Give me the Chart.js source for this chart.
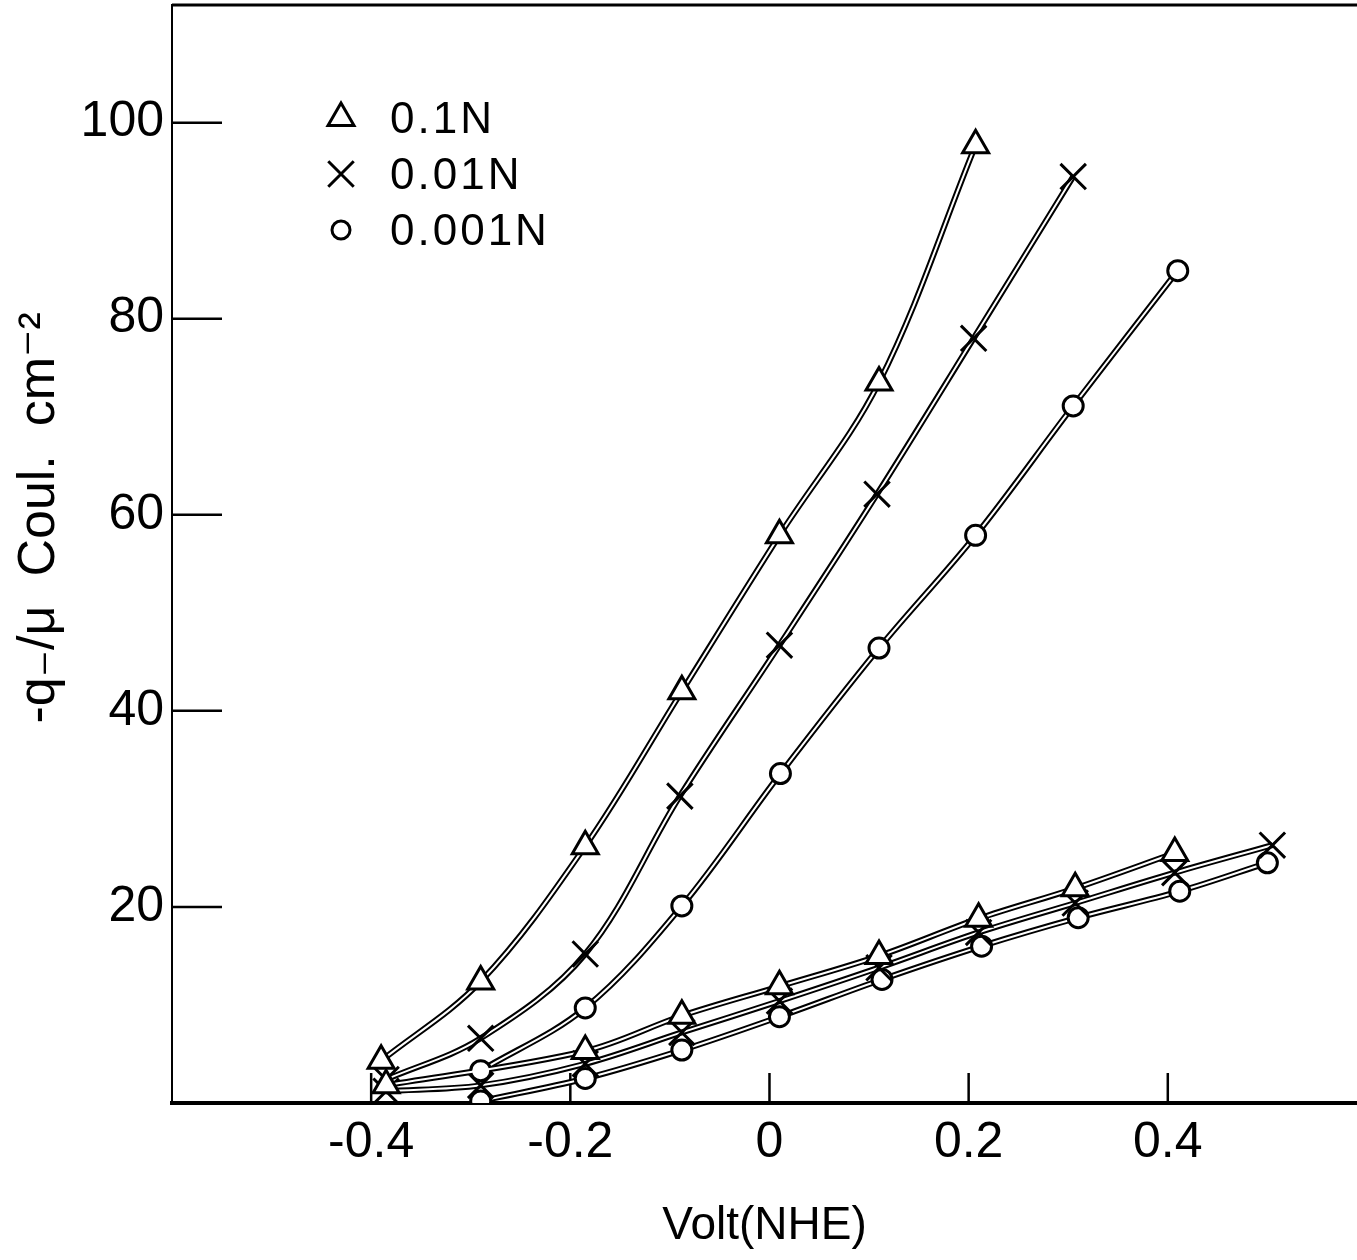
<!DOCTYPE html>
<html>
<head>
<meta charset="utf-8">
<title>Charge vs potential</title>
<script src="https://cdn.jsdelivr.net/npm/chart.js@4.4.1/dist/chart.umd.min.js"></script>
<style>
    html, body { margin: 0; padding: 0; background: #fff; }
    #wrap { width: 1357px; height: 1260px; }
</style>
</head>
<body>
<div id="wrap"><canvas id="chart" width="1357" height="1260"></canvas></div>
<script>
// values
const xTickValues = [-0.4, -0.2, 0, 0.2, 0.4];
const yTickValues = [20, 40, 60, 80, 100];
const legendLabels = ['0.1N', '0.01N', '0.001N'];

// upper curves
const triUpperX = [-0.39, -0.29, -0.185, -0.088, 0.01, 0.11, 0.207];
const triUpperY = [4.3, 12.4, 26.2, 42.0, 57.9, 73.5, 97.7];
const crossUpperX = [-0.385, -0.29, -0.185, -0.09, 0.01, 0.108, 0.205, 0.305];
const crossUpperY = [2.4, 6.6, 15.2, 31.3, 46.7, 62.1, 78.0, 94.5];
const circUpperX = [-0.29, -0.185, -0.088, 0.011, 0.11, 0.207, 0.305, 0.41];
const circUpperY = [3.3, 9.7, 20.1, 33.6, 46.4, 57.9, 71.1, 84.9];

// lower curves
const triLowerX = [-0.385, -0.185, -0.088, 0.01, 0.11, 0.21, 0.307, 0.407];
const triLowerY = [1.8, 5.3, 8.9, 11.9, 15.0, 18.8, 21.9, 25.5];
const crossLowerX = [-0.385, -0.29, -0.185, -0.088, 0.01, 0.11, 0.21, 0.307, 0.407, 0.505];
const crossLowerY = [1.2, 1.8, 4.0, 7.2, 10.4, 13.8, 17.4, 20.4, 23.5, 26.3];
const circLowerX = [-0.29, -0.185, -0.088, 0.01, 0.113, 0.213, 0.31, 0.412, 0.5];
const circLowerY = [0.2, 2.5, 5.4, 8.8, 12.6, 16.0, 18.9, 21.6, 24.5];

const FONT = '"Liberation Sans", "DejaVu Sans", sans-serif';

function pts(xs, ys) {
    return xs.map((x, i) => ({ x: x, y: ys[i] }));
}

const markers = {
    triangle: { pointStyle: 'triangle', radius: 15 },
    cross: { pointStyle: 'crossRot', radius: 18 },
    circle: { pointStyle: 'circle', radius: 10 }
};

// each curve is drawn twice: a wide black stroke, then a thin white one on top (hollow line look)
function curve(xs, ys, marker, label) {
    const data = pts(xs, ys);
    const m = markers[marker];
    return [
        {
            data: data,
            borderColor: '#000',
            borderWidth: 6,
            pointRadius: 0,
            tension: 0.35,
            order: 2
        },
        {
            label: label,
            inLegend: !!label,
            data: data,
            borderColor: '#fff',
            borderWidth: 2,
            pointStyle: m.pointStyle,
            pointRadius: m.radius,
            pointBorderWidth: 3,
            pointBorderColor: '#000',
            pointBackgroundColor: '#fff',
            tension: 0.35,
            order: 1
        }
    ];
}

const datasets = [].concat(
    curve(triLowerX, triLowerY, 'triangle'),
    curve(crossLowerX, crossLowerY, 'cross'),
    curve(circLowerX, circLowerY, 'circle'),
    curve(triUpperX, triUpperY, 'triangle', legendLabels[0]),
    curve(crossUpperX, crossUpperY, 'cross', legendLabels[1]),
    curve(circUpperX, circUpperY, 'circle', legendLabels[2])
);

// inward tick marks + top frame line
const axisMarks = {
    id: 'axisMarks',
    beforeDatasetsDraw(chart) {
        const { ctx, chartArea, scales } = chart;
        ctx.save();
        ctx.strokeStyle = '#000';
        ctx.lineWidth = 3;
        ctx.beginPath();
        ctx.moveTo(chartArea.left, chartArea.top);
        ctx.lineTo(chartArea.right, chartArea.top);
        ctx.stroke();
        ctx.lineWidth = 2.5;
        scales.y.ticks.forEach(t => {
            const py = scales.y.getPixelForValue(t.value);
            ctx.beginPath();
            ctx.moveTo(chartArea.left, py);
            ctx.lineTo(chartArea.left + 50, py);
            ctx.stroke();
        });
        scales.x.ticks.forEach(t => {
            const px = scales.x.getPixelForValue(t.value);
            ctx.beginPath();
            ctx.moveTo(px, chartArea.bottom);
            ctx.lineTo(px, chartArea.bottom - 30);
            ctx.stroke();
        });
        ctx.restore();
    }
};

// legend in the upper left of the plot
const markerLegend = {
    id: 'markerLegend',
    afterDraw(chart) {
        const ctx = chart.ctx;
        const items = chart.data.datasets.filter(d => d.inLegend);
        ctx.save();
        items.forEach((d, i) => {
            const cy = 118 + i * 56;
            ctx.fillStyle = '#fff';
            ctx.strokeStyle = '#000';
            ctx.lineWidth = 3;
            Chart.helpers.drawPoint(ctx, {
                pointStyle: d.pointStyle,
                radius: d.pointStyle === 'circle' ? 9 : d.pointRadius,
                borderWidth: 3,
                rotation: 0
            }, 341, cy);
            ctx.fillStyle = '#000';
            ctx.font = '44px ' + FONT;
            ctx.letterSpacing = '3px';
            ctx.textBaseline = 'alphabetic';
            ctx.textAlign = 'left';
            ctx.fillText(d.label, 390, cy + 15);
        });
        ctx.restore();
    }
};

new Chart(document.getElementById('chart'), {
    type: 'line',
    data: { datasets: datasets },
    options: {
        responsive: false,
        animation: false,
        layout: { autoPadding: false, padding: { top: 5, right: 0, left: 0, bottom: 0 } },
        plugins: {
            legend: { display: false },
            tooltip: { enabled: false }
        },
        scales: {
            x: {
                type: 'linear',
                min: -0.6,
                max: 0.59,
                afterBuildTicks: s => { s.ticks = xTickValues.map(v => ({ value: v })); },
                afterFit: s => {
                    s.height = 157;
                    s.paddingLeft = 0;
                    s.paddingRight = 0;
                },
                grid: { display: false, drawTicks: false },
                border: { display: true, color: '#000', width: 4 },
                ticks: {
                    color: '#000',
                    padding: 10,
                    maxRotation: 0,
                    font: { family: FONT, size: 50 },
                    callback: v => String(v)
                },
                title: {
                    display: true,
                    text: 'Volt(NHE)',
                    color: '#000',
                    font: { family: FONT, size: 46 },
                    padding: { top: 0, bottom: 6 }
                }
            },
            y: {
                type: 'linear',
                min: 0,
                max: 112,
                afterBuildTicks: s => { s.ticks = yTickValues.map(v => ({ value: v })); },
                afterFit: s => {
                    s.width = 172;
                    s.paddingTop = 0;
                    s.paddingBottom = 0;
                },
                grid: { display: false, drawTicks: false },
                border: { display: true, color: '#000', width: 2 },
                ticks: {
                    color: '#000',
                    padding: 8,
                    font: { family: FONT, size: 50 },
                    callback: v => String(v)
                },
                title: {
                    display: true,
                    // leading spaces push the text up a little, as in the original
                    text: '\u00A0\u00A0\u00A0\u00A0\u00A0-q\u208B/\u03BC\u00A0\u00A0Coul.\u00A0\u00A0cm\u207B\u00B2',
                    color: '#000',
                    font: { family: FONT, size: 52 },
                    padding: { top: 8, bottom: 0 }
                }
            }
        }
    },
    plugins: [axisMarks, markerLegend]
});
</script>
</body>
</html>
